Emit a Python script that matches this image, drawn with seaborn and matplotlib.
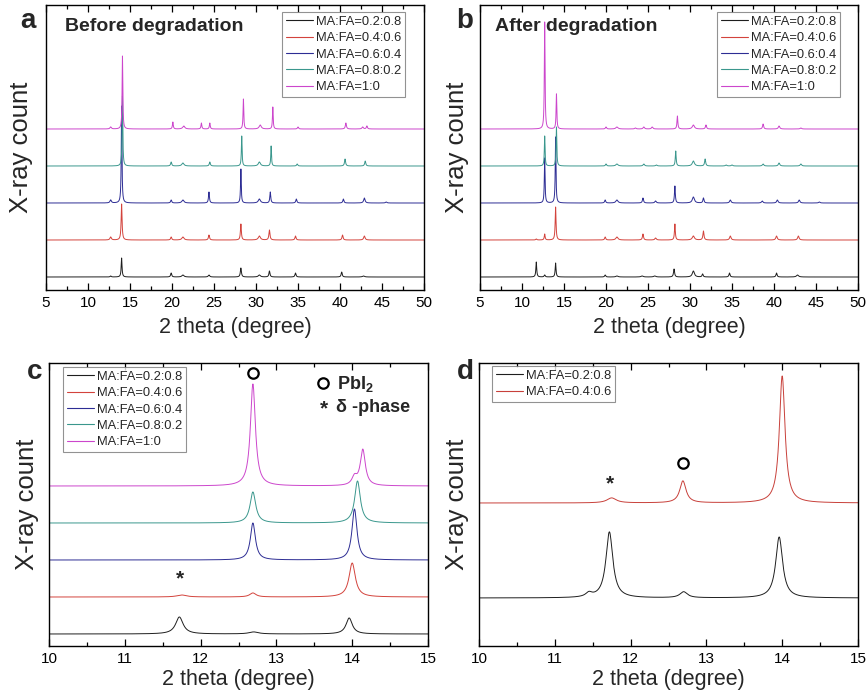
import numpy as np
import pandas as pd
import matplotlib
matplotlib.use("Agg")
import matplotlib.pyplot as plt
import seaborn as sns
from matplotlib.lines import Line2D
from matplotlib.ticker import MultipleLocator

# ---------------- data (peak position, height, FWHM) ----------------
LABELS = ["MA:FA=0.2:0.8", "MA:FA=0.4:0.6", "MA:FA=0.6:0.4", "MA:FA=0.8:0.2", "MA:FA=1:0"]
COLORS = ["#1e1e1e", "#d3433c", "#2d2d94", "#3a978d", "#cc46cc"]

# panel a : before degradation (5-50 deg)
A_PEAKS = [
    [(12.7, 1, 0.15), (14.0, 19, 0.12), (19.9, 4, 0.15), (21.3, 2, 0.3), (24.4, 2, 0.2), (28.2, 9, 0.15),
     (30.4, 2, 0.3), (31.6, 6, 0.15), (34.7, 4, 0.15), (40.2, 5, 0.15), (42.8, 1, 0.3)],
    [(12.7, 3, 0.2), (14.0, 36, 0.13), (19.9, 3, 0.15), (21.3, 3, 0.3), (24.4, 5, 0.15), (28.2, 16, 0.13),
     (30.4, 4, 0.3), (31.6, 10, 0.15), (34.7, 4, 0.15), (40.3, 5, 0.15), (42.9, 4, 0.2)],
    [(12.7, 3, 0.2), (14.0, 97, 0.1), (19.9, 3, 0.15), (21.3, 3, 0.3), (24.4, 11, 0.13), (28.2, 34, 0.1),
     (30.4, 4, 0.3), (31.7, 11, 0.13), (34.8, 4, 0.15), (40.4, 4, 0.15), (42.9, 5, 0.2), (45.5, 1, 0.2)],
    [(14.1, 70, 0.1), (19.9, 4, 0.15), (21.3, 3, 0.3), (24.5, 4, 0.15), (28.3, 30, 0.1), (30.4, 4, 0.3),
     (31.8, 20, 0.1), (34.9, 2, 0.15), (40.6, 7, 0.15), (43.0, 5, 0.15)],
    [(12.7, 2, 0.2), (14.1, 73, 0.1), (20.1, 7, 0.12), (21.4, 3, 0.3), (23.5, 6, 0.12), (24.5, 6, 0.12),
     (28.5, 30, 0.1), (30.5, 4, 0.3), (32.0, 22, 0.1), (35.0, 2, 0.15), (40.7, 6, 0.15), (42.7, 2, 0.2),
     (43.2, 3, 0.15)],
]

# panel b : after degradation (5-50 deg)
B_PEAKS = [
    [(11.7, 15, 0.12), (12.7, 2, 0.15), (14.0, 14, 0.12), (19.9, 2, 0.15), (21.3, 1, 0.3), (24.3, 1, 0.3),
     (25.8, 1, 0.3), (28.1, 8, 0.15), (30.4, 6, 0.3), (31.5, 3, 0.15), (34.7, 4, 0.15), (40.3, 4, 0.15),
     (42.8, 2, 0.3)],
    [(11.7, 1, 0.15), (12.7, 6, 0.12), (14.0, 33, 0.12), (19.9, 3, 0.15), (21.3, 3, 0.3), (24.4, 6, 0.15),
     (25.9, 2, 0.2), (28.2, 16, 0.12), (30.4, 4, 0.3), (31.6, 9, 0.15), (34.8, 4, 0.2), (40.3, 4, 0.2),
     (42.9, 4, 0.2)],
    [(12.7, 45, 0.1), (14.0, 66, 0.1), (19.9, 3, 0.15), (21.3, 3, 0.3), (24.4, 5, 0.15), (25.9, 2, 0.2),
     (28.2, 17, 0.12), (30.4, 6, 0.3), (31.6, 5, 0.15), (34.8, 3, 0.2), (38.6, 2, 0.2), (40.4, 3, 0.2),
     (43.0, 3, 0.2), (45.4, 1, 0.2)],
    [(12.7, 30, 0.1), (14.1, 39, 0.1), (20.0, 2, 0.15), (21.3, 2, 0.3), (24.5, 2, 0.2), (26.0, 1, 0.2),
     (28.3, 15, 0.12), (30.4, 5, 0.3), (31.8, 7, 0.15), (34.3, 1, 0.2), (35.0, 1, 0.2), (38.7, 2, 0.2),
     (40.6, 3, 0.2), (43.2, 2, 0.2)],
    [(12.7, 107, 0.1), (14.1, 35, 0.1), (20.0, 2, 0.15), (21.3, 2, 0.3), (23.5, 1, 0.2), (24.5, 2, 0.2),
     (25.5, 2, 0.2), (28.5, 13, 0.12), (30.4, 4, 0.3), (31.9, 4, 0.15), (38.7, 5, 0.15), (40.6, 3, 0.2),
     (43.2, 1, 0.2)],
]

# panel c : zoom 10-15 deg, after degradation
C_PEAKS = [
    [(11.72, 17, 0.12), (12.70, 2, 0.15), (13.96, 16, 0.1)],
    [(11.75, 2, 0.15), (12.69, 4, 0.1), (14.00, 34, 0.1)],
    [(12.69, 37, 0.08), (14.03, 51, 0.08)],
    [(12.69, 31, 0.09), (14.07, 42, 0.09)],
    [(12.69, 102, 0.08), (14.03, 8, 0.08), (14.14, 36, 0.08)],
]

# panel d : zoom 10-15 deg, two compositions
D_LABELS = ["MA:FA=0.2:0.8", "MA:FA=0.4:0.6"]
D_COLORS = ["#1e1e1e", "#c8403a"]
D_PEAKS = [
    [(11.45, 4, 0.1), (11.72, 66, 0.11), (12.70, 6, 0.12), (13.96, 61, 0.11)],
    [(11.75, 5, 0.15), (12.69, 22, 0.1), (14.00, 127, 0.09)],
]

# ---------------- style ----------------
sns.set_style("ticks")
plt.rcParams["font.family"] = ["Liberation Sans", "DejaVu Sans"]
plt.rcParams["mathtext.fontset"] = "custom"
plt.rcParams["mathtext.rm"] = "Liberation Sans"
plt.rcParams["mathtext.bf"] = "Liberation Sans:bold"

W, H = 867, 699
fig = plt.figure(figsize=(W / 100, H / 100), dpi=100, facecolor="white")


def ax_px(left, top, right, bottom):
    return fig.add_axes([left / W, 1 - bottom / H, (right - left) / W, (bottom - top) / H])


def pattern(x, peaks):
    y = np.zeros_like(x)
    for c, h, w in peaks:
        y = y + h / (1 + ((x - c) / (w / 2)) ** 2)
    return y


def draw(ax, peaks_list, labels, colors, offset, xr, step):
    x = np.arange(xr[0], xr[1] + step / 2, step)
    frames = []
    for i, (pk, lab) in enumerate(zip(peaks_list, labels)):
        frames.append(pd.DataFrame({"x": x, "y": pattern(x, pk) + i * offset, "series": lab}))
    df = pd.concat(frames, ignore_index=True)
    sns.lineplot(data=df, x="x", y="y", hue="series", hue_order=labels,
                 palette=dict(zip(labels, colors)), estimator=None, sort=False,
                 legend=False, lw=0.7, ax=ax)


def style(ax, xr, major, minor, ylim, xlab_off, ylab_x):
    ax.set_xlim(*xr)
    ax.set_ylim(*ylim)
    ax.xaxis.set_major_locator(MultipleLocator(major))
    ax.xaxis.set_minor_locator(MultipleLocator(minor))
    ax.tick_params(axis="x", which="both", direction="in", top=True, bottom=True,
                   labelsize=11, pad=4, width=0.9, colors="black")
    ax.tick_params(axis="x", which="major", length=5)
    ax.tick_params(axis="x", which="minor", length=3)
    ax.tick_params(axis="y", left=False, labelleft=False)
    for s in ax.spines.values():
        s.set_visible(True)
        s.set_linewidth(1.0)
        s.set_color("black")
    ax.set_xlabel("2 theta (degree)", fontsize=15.5, va="center")
    ax.xaxis.set_label_coords(0.5, xlab_off)
    ax.set_ylabel("X-ray count", fontsize=18.5, va="center")
    ax.yaxis.set_label_coords(ylab_x, 0.5)


def legend(ax, labels, colors, x0, y0):
    handles = [Line2D([], [], color=c, lw=0.8) for c in colors]
    leg = ax.legend(handles, labels, loc="upper left", bbox_to_anchor=(x0 / W, 1 - y0 / H),
                    bbox_transform=fig.transFigure, fontsize=9.3, frameon=True, fancybox=False,
                    borderpad=0.3, labelspacing=0.33, handlelength=2.1, handletextpad=0.25,
                    borderaxespad=0)
    leg.get_frame().set_edgecolor("#777777")
    leg.get_frame().set_linewidth(0.8)


def circle(ax, x, y):
    # hollow circle annotation symbol (PbI2 marker)
    ax.plot([x], [y], marker="o", ms=7.5, mfc="none", mec="black", mew=1.6, ls="none",
            clip_on=False)


# panel a
axa = ax_px(46, 5, 424, 290)
draw(axa, A_PEAKS, LABELS, COLORS, 37, (5, 50), 0.01)
style(axa, (5, 50), 5, 2.5, (-13, 272), -37 / 285, -0.066)
legend(axa, LABELS, COLORS, 282, 12)
axa.text(0.05, 0.923, "Before degradation", transform=axa.transAxes, fontsize=14,
         fontweight="bold", va="center", ha="left")

# panel b
axb = ax_px(480, 5, 858, 290)
draw(axb, B_PEAKS, LABELS, COLORS, 37, (5, 50), 0.01)
style(axb, (5, 50), 5, 2.5, (-13, 272), -37 / 285, -0.061)
legend(axb, LABELS, COLORS, 717, 12)
axb.text(0.04, 0.923, "After degradation", transform=axb.transAxes, fontsize=14,
         fontweight="bold", va="center", ha="left")

# panel c
axc = ax_px(49, 363, 428, 646)
draw(axc, C_PEAKS, LABELS, COLORS, 37, (10, 15), 0.005)
style(axc, (10, 15), 1, 0.5, (-12, 271), -34 / 283, -0.058)
legend(axc, LABELS, COLORS, 63, 367)
circle(axc, 12.69, 261)
circle(axc, 13.61, 251)
axc.text(13.80, 250, r"$\mathbf{PbI_2}$", fontsize=13, ha="left", va="center")
axc.text(13.63, 225, "*", fontsize=15, fontweight="bold", ha="center", va="center")
axc.text(13.78, 227, "δ -phase", fontsize=13, fontweight="bold", ha="left", va="center")
axc.text(11.73, 55, "*", fontsize=15, fontweight="bold", ha="center", va="center")

# panel d
axd = ax_px(479, 363, 858, 646)
draw(axd, D_PEAKS, D_LABELS, D_COLORS, 95, (10, 15), 0.005)
style(axd, (10, 15), 1, 0.5, (-48, 235), -34 / 283, -0.058)
legend(axd, D_LABELS, D_COLORS, 492, 366)
axd.text(11.73, 114, "*", fontsize=15, fontweight="bold", ha="center", va="center")
circle(axd, 12.69, 135)

# panel letters
for lab, (px, py) in zip("abcd", [(28, 21), (465, 21), (35, 372), (465, 372)]):
    fig.text(px / W, 1 - py / H, lab, fontsize=20, fontweight="bold", ha="center", va="center")

fig.savefig("out.png", dpi=100, facecolor="white")
